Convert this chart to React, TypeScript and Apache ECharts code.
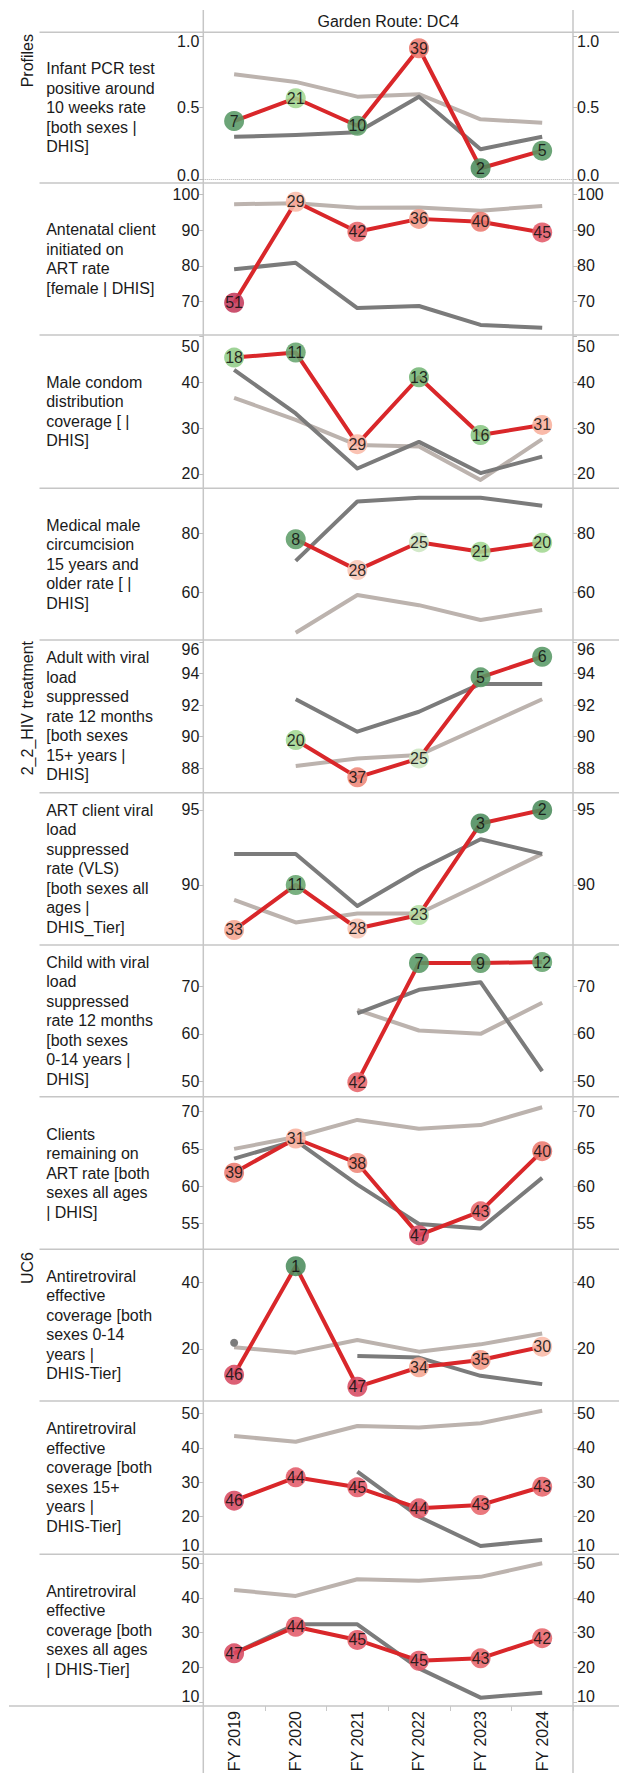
import React, { useEffect, useRef } from 'react';
import * as echarts from 'echarts';

const years = ['FY 2019', 'FY 2020', 'FY 2021', 'FY 2022', 'FY 2023', 'FY 2024'];

// Row 1 - Infant PCR
const infantRed = [0.407, 0.566, 0.374, 0.915, 0.077, 0.2];
const infantRank = [7, 21, 10, 39, 2, 5];
const infantDark = [0.297, 0.309, 0.328, 0.577, 0.21, 0.297];
const infantLight = [0.733, 0.68, 0.577, 0.594, 0.419, 0.395];
const infantTicks = [0, 0.5, 1.0];

// Row 2 - Antenatal ART
const ancRed = [69.7, 98.0, 89.6, 93.2, 92.4, 89.4];
const ancRank = [51, 29, 42, 36, 40, 45];
const ancDark = [79.1, 80.9, 68.2, 68.8, 63.5, 62.7];
const ancLight = [97.3, 97.6, 96.3, 96.4, 95.5, 96.8];
const ancTicks = [70, 80, 90, 100];

// Row 3 - Male condom
const condomRed = [45.4, 46.5, 26.5, 41.1, 28.5, 30.7];
const condomRank = [18, 11, 29, 13, 16, 31];
const condomDark = [42.7, 33.2, 21.2, 27.0, 20.2, 23.8];
const condomLight = [36.6, 31.8, 26.3, 26.0, 18.7, 27.6];
const condomTicks = [20, 30, 40, 50];

// Row 4 - MMC
const mmcRed = [null, 78.0, 67.6, 77.0, 73.8, 76.8];
const mmcRank = [null, 8, 28, 25, 21, 20];
const mmcDark = [null, 70.7, 90.7, 92.0, 92.0, 89.3];
const mmcLight = [null, 46.5, 59.2, 55.8, 50.8, 54.2];
const mmcTicks = [60, 80];

// Row 5 - Adult VL
const adultRed = [null, 89.79, 87.43, 88.63, 93.76, 95.06];
const adultRank = [null, 20, 37, 25, 5, 6];
const adultDark = [null, 92.37, 90.32, 91.58, 93.34, 93.34];
const adultLight = [null, 88.15, 88.63, 88.84, 90.6, 92.37];
const adultTicks = [88, 90, 92, 94, 96];

// Row 6 - ART VLS
const vlsRed = [87.0, 90.0, 87.1, 88.0, 94.1, 95.0];
const vlsRank = [33, 11, 28, 23, 3, 2];
const vlsDark = [92.07, 92.07, 88.6, 91.0, 93.05, 92.07];
const vlsLight = [89.0, 87.5, 88.1, 88.1, 90.07, 92.07];
const vlsTicks = [90, 95];

// Row 7 - Child VL
const childRed = [null, null, 49.9, 74.8, 74.8, 75.0];
const childRank = [null, null, 42, 7, 9, 12];
const childDark = [null, null, 64.3, 69.2, 70.8, 52.2];
const childLight = [null, null, 65.0, 60.7, 60.0, 66.5];
const childTicks = [50, 60, 70];

// Row 8 - Clients remaining on ART
const retRed = [61.8, 66.4, 63.1, 53.4, 56.6, 64.7];
const retRank = [39, 31, 38, 47, 43, 40];
const retDark = [63.7, 66.1, 60.2, 54.9, 54.3, 61.1];
const retLight = [65.0, 66.6, 68.9, 67.7, 68.2, 70.6];
const retTicks = [55, 60, 65, 70];

// Row 9 - ART effective coverage 0-14
const art014Red = [12.2, 45.0, 8.6, 14.5, 16.7, 20.7];
const art014Rank = [46, 1, 47, 34, 35, 30];
const art014Dark = [21.9, null, 17.9, 17.4, 11.9, 9.4];
const art014Light = [20.5, 18.9, 22.7, 19.2, 21.4, 24.7];
const art014Ticks = [20, 40];

// Row 10 - ART effective coverage 15+
const art15Red = [24.64, 31.43, 28.53, 22.44, 23.4, 28.7];
const art15Rank = [46, 44, 45, 44, 43, 43];
const art15Dark = [null, null, 33.06, 20.0, 11.5, 13.24];
const art15Light = [43.4, 41.76, 46.3, 45.9, 47.1, 50.75];
const art15Ticks = [10, 20, 30, 40, 50];

// Row 11 - ART effective coverage all ages
const artAllRed = [24.04, 31.7, 27.9, 21.9, 22.6, 28.4];
const artAllRank = [47, 44, 45, 45, 43, 42];
const artAllDark = [24.04, 32.4, 32.4, 19.7, 11.24, 12.68];
const artAllLight = [42.3, 40.6, 45.4, 45.0, 46.1, 50.0];
const artAllTicks = [10, 20, 30, 40, 50];

const rowLabels = [
  'Infant PCR test\npositive around\n10 weeks rate\n[both sexes |\nDHIS]',
  'Antenatal client\ninitiated on\nART rate\n[female | DHIS]',
  'Male condom\ndistribution\ncoverage [ |\nDHIS]',
  'Medical male\ncircumcision\n15 years and\nolder rate [ |\nDHIS]',
  'Adult with viral\nload\nsuppressed\nrate 12 months\n[both sexes\n15+ years |\nDHIS]',
  'ART client viral\nload\nsuppressed\nrate (VLS)\n[both sexes all\nages |\nDHIS_Tier]',
  'Child with viral\nload\nsuppressed\nrate 12 months\n[both sexes\n0-14 years |\nDHIS]',
  'Clients\nremaining on\nART rate [both\nsexes all ages\n| DHIS]',
  'Antiretroviral\neffective\ncoverage [both\nsexes 0-14\nyears |\nDHIS-Tier]',
  'Antiretroviral\neffective\ncoverage [both\nsexes 15+\nyears |\nDHIS-Tier]',
  'Antiretroviral\neffective\ncoverage [both\nsexes all ages\n| DHIS-Tier]',
];

const groupLabels = ['Profiles', '2_2_HIV treatment', 'UC6'];

const rows: any[] = [
  { red: infantRed, rank: infantRank, dark: infantDark, light: infantLight, ticks: infantTicks, min: -0.026, max: 1.0265, dec: 1, shift: { '1': 5.6, '0': -4 }, zero: true },
  { red: ancRed, rank: ancRank, dark: ancDark, light: ancLight, ticks: ancTicks, min: 60.67, max: 103.25, dec: 0, shift: {} },
  { red: condomRed, rank: condomRank, dark: condomDark, light: condomLight, ticks: condomTicks, min: 16.88, max: 50.32, dec: 0, shift: { '50': 10 } },
  { red: mmcRed, rank: mmcRank, dark: mmcDark, light: mmcLight, ticks: mmcTicks, min: 44.07, max: 95.15, dec: 0, shift: {} },
  { red: adultRed, rank: adultRank, dark: adultDark, light: adultLight, ticks: adultTicks, min: 86.46, max: 96.12, dec: 0, shift: { '96': 8 } },
  { red: vlsRed, rank: vlsRank, dark: vlsDark, light: vlsLight, ticks: vlsTicks, min: 86.0, max: 96.15, dec: 0, shift: {} },
  { red: childRed, rank: childRank, dark: childDark, light: childLight, ticks: childTicks, min: 46.86, max: 78.58, dec: 0, shift: {} },
  { red: retRed, rank: retRank, dark: retDark, light: retLight, ticks: retTicks, min: 51.5, max: 72.02, dec: 0, shift: {} },
  { red: art014Red, rank: art014Rank, dark: art014Dark, light: art014Light, ticks: art014Ticks, min: 4.31, max: 50.08, dec: 0, shift: {} },
  { red: art15Red, rank: art15Rank, dark: art15Dark, light: art15Light, ticks: art15Ticks, min: 9.09, max: 53.57, dec: 0, shift: { '10': -6 } },
  { red: artAllRed, rank: artAllRank, dark: artAllDark, light: artAllLight, ticks: artAllTicks, min: 8.84, max: 52.6, dec: 0, shift: { '10': -5 } },
];

const rowTops = [32.3, 183, 335, 488.3, 640, 792.7, 945, 1096.7, 1249.3, 1401, 1554.3];
const plotBottom = 1706;
const groupTops = [34, 641, 1252];

const FONT = "'Liberation Sans', Arial, Helvetica, sans-serif";
const TXT = '#1a1a1a';
const GRID_LEFT = 203.3;
const GRID_RIGHT = 573;
const LINE_C = '#c6c6c6';

const rankPieces = [
  { min: 0, max: 3, color: '#4b8c5c' },
  { min: 3.5, max: 7, color: '#589865' },
  { min: 7.5, max: 10, color: '#5e9d69' },
  { min: 10.5, max: 12, color: '#66a56e' },
  { min: 12.5, max: 15, color: '#75b676' },
  { min: 15.5, max: 17, color: '#88c682' },
  { min: 17.5, max: 19, color: '#92cd89' },
  { min: 19.5, max: 22, color: '#a2d791' },
  { min: 22.5, max: 24, color: '#b4dfa5' },
  { min: 24.5, max: 26, color: '#cde6c1' },
  { min: 26.5, max: 28, color: '#f8c6b6' },
  { min: 28.5, max: 30, color: '#f9bba8' },
  { min: 30.5, max: 32, color: '#f8b19d' },
  { min: 32.5, max: 34, color: '#f5a591' },
  { min: 34.5, max: 36, color: '#f39a87' },
  { min: 36.5, max: 38, color: '#ee8677' },
  { min: 38.5, max: 40, color: '#ec7a70' },
  { min: 40.5, max: 43, color: '#e7656b' },
  { min: 43.5, max: 45, color: '#e25a69' },
  { min: 45.5, max: 47, color: '#d74a62' },
  { min: 47.5, max: 60, color: '#c43a5b' },
];

function buildOption() {
  const grid: any[] = [];
  const xAxis: any[] = [];
  const yAxis: any[] = [];
  const series: any[] = [];
  const scatterIdx: number[] = [];
  const graphic: any[] = [];
  const n = rows.length;

  rows.forEach((r, i) => {
    const top = rowTops[i];
    const bottom = i < n - 1 ? rowTops[i + 1] : plotBottom;
    const last = i === n - 1;
    grid.push({ left: GRID_LEFT, top, width: GRID_RIGHT - GRID_LEFT, height: bottom - top });
    xAxis.push({
      type: 'category', gridIndex: i, data: years, boundaryGap: true,
      axisLine: { show: false },
      axisTick: { show: last, length: 5, interval: 0, lineStyle: { color: '#c8c8c8' } },
      axisLabel: { show: last, rotate: 90, margin: 5, interval: 0, fontSize: 16, fontFamily: FONT, color: TXT },
      splitLine: { show: false },
    });
    const rich: any = {};
    r.ticks.forEach((t: number, k: number) => {
      const s = r.shift[String(t)] || 0;
      rich['v' + k] = {
        fontSize: 16, fontFamily: FONT, color: TXT,
        padding: s > 0 ? [2 * s, 0, 0, 0] : s < 0 ? [0, 0, -2 * s, 0] : [0, 0, 0, 0],
      };
    });
    const formatter = (val: number) => {
      const k = r.ticks.findIndex((t: number) => Math.abs(t - val) < 1e-9);
      const txt = r.dec ? Number(val).toFixed(r.dec) : String(Math.round(val));
      return '{v' + (k < 0 ? 0 : k) + '|' + txt + '}';
    };
    ['left', 'right'].forEach((pos) => {
      yAxis.push({
        type: 'value', gridIndex: i, position: pos, min: r.min, max: r.max,
        axisLine: { show: false }, splitLine: { show: false },
        axisTick: { show: true, length: 4, customValues: r.ticks, lineStyle: { color: '#bdbdbd' } },
        axisLabel: { customValues: r.ticks, margin: 4, formatter, rich, fontSize: 16, fontFamily: FONT, color: TXT },
      });
    });
    const yIdx = 2 * i;
    series.push({
      type: 'line', xAxisIndex: i, yAxisIndex: yIdx, data: r.light, symbol: 'none', silent: true,
      lineStyle: { color: '#bcb3ae', width: 4, join: 'round' }, z: 2,
    });
    const darkData = r.dark.map((v: any, j: number) => {
      const prev = j > 0 ? r.dark[j - 1] : null;
      const next = j < r.dark.length - 1 ? r.dark[j + 1] : null;
      if (v != null && prev == null && next == null) {
        return { value: v, symbol: 'circle', symbolSize: 8, itemStyle: { color: '#7b7b7b' } };
      }
      return v;
    });
    const dark: any = {
      type: 'line', xAxisIndex: i, yAxisIndex: yIdx, data: darkData, symbol: 'none', showSymbol: true, silent: true,
      lineStyle: { color: '#7b7b7b', width: 4, join: 'round' }, itemStyle: { color: '#7b7b7b' }, z: 3,
    };
    if (r.zero) {
      dark.markLine = {
        silent: true, symbol: 'none', label: { show: false },
        lineStyle: { type: 'dotted', color: '#b0b0b0', width: 1 },
        data: [{ yAxis: 0 }],
      };
    }
    series.push(dark);
    series.push({
      type: 'line', xAxisIndex: i, yAxisIndex: yIdx, data: r.red, symbol: 'none', silent: true,
      lineStyle: { color: '#d9272a', width: 4, join: 'round' }, z: 4,
    });
    const pts: any[] = [];
    r.red.forEach((v: any, j: number) => {
      if (v != null) pts.push([j, v, r.rank[j]]);
    });
    scatterIdx.push(series.length);
    series.push({
      type: 'scatter', xAxisIndex: i, yAxisIndex: yIdx, data: pts, symbol: 'circle', symbolSize: 20,
      itemStyle: { opacity: 0.88 }, z: 5,
      label: {
        show: true, position: 'inside', formatter: (p: any) => String(p.value[2]),
        fontSize: 16, fontFamily: FONT, color: '#111',
      },
    });

    // row label
    graphic.push({
      type: 'text', x: 46.2, y: (top + bottom) / 2, silent: true,
      style: { text: rowLabels[i], fill: TXT, fontSize: 16, fontFamily: FONT, align: 'left', verticalAlign: 'middle', lineHeight: 19.5 },
    });
    // separator
    if (i < n - 1) {
      graphic.push({ type: 'line', silent: true, z: -1, shape: { x1: 39.5, y1: bottom, x2: 619, y2: bottom }, style: { stroke: LINE_C, lineWidth: 1.5 } });
    }
  });

  // header
  graphic.push({
    type: 'text', x: (GRID_LEFT + GRID_RIGHT) / 2, y: 21.7, silent: true,
    style: { text: 'Garden Route: DC4', fill: TXT, fontSize: 16, fontFamily: FONT, align: 'center', verticalAlign: 'middle' },
  });
  graphic.push({ type: 'line', silent: true, z: -1, shape: { x1: 39.5, y1: 32.3, x2: 619, y2: 32.3 }, style: { stroke: LINE_C, lineWidth: 1.5 } });
  graphic.push({ type: 'line', silent: true, z: -1, shape: { x1: 9, y1: plotBottom, x2: 619, y2: plotBottom }, style: { stroke: LINE_C, lineWidth: 1.5 } });
  graphic.push({ type: 'line', silent: true, z: -1, shape: { x1: GRID_LEFT, y1: 10, x2: GRID_LEFT, y2: 1773 }, style: { stroke: LINE_C, lineWidth: 1.5 } });
  graphic.push({ type: 'line', silent: true, z: -1, shape: { x1: GRID_RIGHT, y1: 10, x2: GRID_RIGHT, y2: 1773 }, style: { stroke: LINE_C, lineWidth: 1.5 } });
  groupLabels.forEach((g, k) => {
    graphic.push({
      type: 'text', x: 27.6, y: groupTops[k], rotation: Math.PI / 2, silent: true,
      style: { text: g, fill: TXT, fontSize: 16, fontFamily: FONT, align: 'right', verticalAlign: 'middle' },
    });
  });

  return {
    animation: false,
    backgroundColor: '#ffffff',
    grid, xAxis, yAxis, series, graphic,
    visualMap: {
      type: 'piecewise', show: false, dimension: 2, seriesIndex: scatterIdx, pieces: rankPieces,
    },
  };
}

export default function App() {
  const ref = useRef<HTMLDivElement>(null);
  useEffect(() => {
    if (!ref.current) return;
    const chart = echarts.init(ref.current, undefined, { renderer: 'svg' });
    chart.setOption(buildOption() as any);
    return () => chart.dispose();
  }, []);
  return (
    <div
      ref={ref}
      style={{ position: 'absolute', left: 0, top: 0, width: 619, height: 1787, background: '#fff' }}
    />
  );
}
